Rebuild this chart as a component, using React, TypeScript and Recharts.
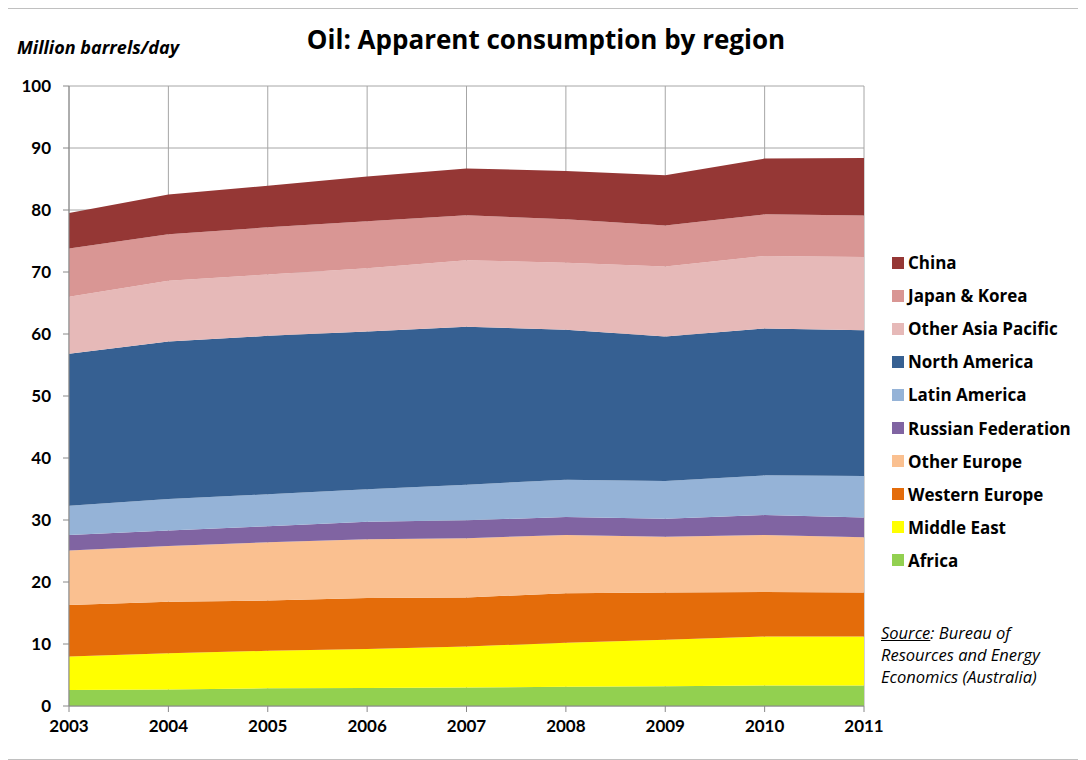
import { AreaChart, Area, XAxis, YAxis, CartesianGrid } from "recharts";

const years = ["2003", "2004", "2005", "2006", "2007", "2008", "2009", "2010", "2011"];

const africa = [2.6, 2.65, 2.85, 2.9, 3.0, 3.1, 3.2, 3.3, 3.3];
const middleEast = [5.4, 5.85, 6.05, 6.3, 6.6, 7.1, 7.5, 7.9, 7.9];
const westernEurope = [8.3, 8.3, 8.1, 8.2, 7.9, 8.0, 7.6, 7.2, 7.1];
const otherEurope = [8.8, 9.0, 9.4, 9.5, 9.55, 9.4, 9.0, 9.2, 8.9];
const russia = [2.5, 2.5, 2.6, 2.8, 2.9, 2.9, 2.9, 3.2, 3.2];
const latinAmerica = [4.7, 5.1, 5.15, 5.25, 5.75, 6.0, 6.1, 6.4, 6.7];
const northAmerica = [24.5, 25.4, 25.55, 25.45, 25.45, 24.2, 23.3, 23.7, 23.5];
const otherAsiaPacific = [9.2, 9.8, 9.9, 10.2, 10.75, 10.8, 11.3, 11.7, 11.8];
const japanKorea = [7.8, 7.5, 7.6, 7.6, 7.25, 7.0, 6.6, 6.7, 6.7];
const china = [5.7, 6.4, 6.7, 7.2, 7.55, 7.8, 8.1, 9.0, 9.3];

const yTicks = [0, 10, 20, 30, 40, 50, 60, 70, 80, 90, 100];

// bottom of the stack first
const series = [
  { key: "africa", name: "Africa", color: "#92D050", values: africa },
  { key: "middleEast", name: "Middle East", color: "#FFFF00", values: middleEast },
  { key: "westernEurope", name: "Western Europe", color: "#E46C0A", values: westernEurope },
  { key: "otherEurope", name: "Other Europe", color: "#FAC090", values: otherEurope },
  { key: "russia", name: "Russian Federation", color: "#8064A2", values: russia },
  { key: "latinAmerica", name: "Latin America", color: "#95B3D7", values: latinAmerica },
  { key: "northAmerica", name: "North America", color: "#366092", values: northAmerica },
  { key: "otherAsiaPacific", name: "Other Asia Pacific", color: "#E6B9B8", values: otherAsiaPacific },
  { key: "japanKorea", name: "Japan & Korea", color: "#D99694", values: japanKorea },
  { key: "china", name: "China", color: "#953735", values: china },
];

const data = years.map((year, i) => {
  const row: Record<string, string | number> = { year };
  series.forEach((s) => {
    row[s.key] = s.values[i];
  });
  return row;
});

const font = "'Open Sans', Lato, sans-serif";
const tickFont = "Lato, 'Open Sans', sans-serif";

export default function App() {
  return (
    <div
      style={{
        position: "relative",
        width: 1078,
        height: 750,
        border: "1px solid #c0c0c0",
        marginLeft: -2,
        fontFamily: font,
        background: "#fff",
      }}
    >
      <div
        style={{
          position: "absolute",
          left: 0,
          right: 0,
          top: 12,
          textAlign: "center",
          fontSize: 26,
          fontWeight: 700,
        }}
      >
        Oil: Apparent consumption by region
      </div>
      <div
        style={{
          position: "absolute",
          left: 10,
          top: 26,
          fontSize: 18,
          fontWeight: 700,
          fontStyle: "italic",
        }}
      >
        Million barrels/day
      </div>
      <AreaChart
        width={1078}
        height={750}
        data={data}
        margin={{ top: 77, right: 221, bottom: 23, left: 8 }}
      >
        <CartesianGrid stroke="#a6a6a6" strokeWidth={1} />
        <XAxis
          dataKey="year"
          tickLine={{ stroke: "#888" }}
          axisLine={{ stroke: "#888" }}
          tickSize={6}
          tickMargin={8}
          height={30}
          tick={{ fill: "#000", fontSize: 17, fontWeight: 700, fontFamily: tickFont }}
        />
        <YAxis
          domain={[0, 100]}
          ticks={yTicks}
          interval={0}
          width={54}
          tickLine={{ stroke: "#888" }}
          axisLine={{ stroke: "#888" }}
          tickSize={6}
          tickMargin={12}
          tick={{ fill: "#000", fontSize: 17, fontWeight: 700, fontFamily: tickFont }}
        />
        {series.map((s) => (
          <Area
            key={s.key}
            type="linear"
            dataKey={s.key}
            name={s.name}
            stackId="1"
            stroke="none"
            fill={s.color}
            fillOpacity={1}
            isAnimationActive={false}
          />
        ))}
      </AreaChart>
      <div style={{ position: "absolute", left: 885, top: 237 }}>
        {[...series].reverse().map((s) => (
          <div
            key={s.key}
            style={{ display: "flex", alignItems: "center", height: 33.1, fontSize: 17, fontWeight: 700 }}
          >
            <span style={{ width: 12, height: 12, background: s.color, marginRight: 4, display: "inline-block" }} />
            {s.name}
          </div>
        ))}
      </div>
      <div
        style={{
          position: "absolute",
          left: 874,
          top: 613,
          fontSize: 16.5,
          fontStyle: "italic",
          lineHeight: "22px",
        }}
      >
        <span style={{ textDecoration: "underline" }}>Source</span>: Bureau of
        <br />
        Resources and Energy
        <br />
        Economics (Australia)
      </div>
    </div>
  );
}
